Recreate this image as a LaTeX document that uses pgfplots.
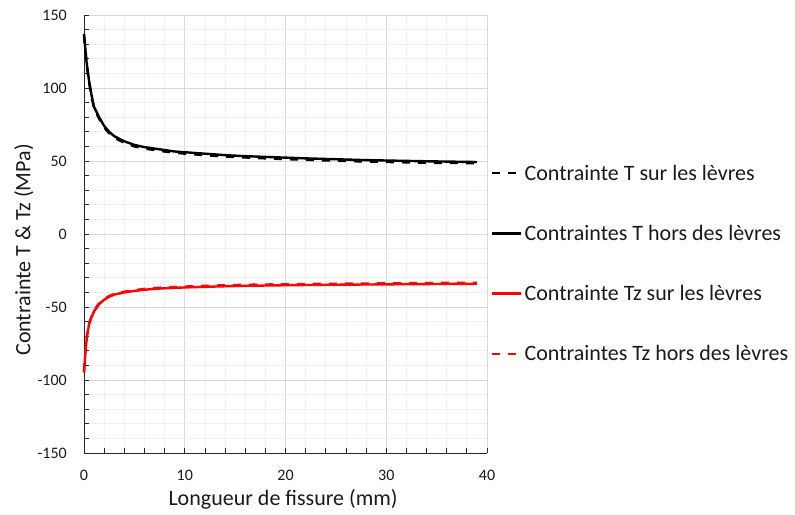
\documentclass[border=0pt]{standalone}
\usepackage{pgfplots}
\pgfplotsset{compat=1.18}
\usepackage{fontspec}
\setmainfont{Carlito}
\definecolor{majgrid}{HTML}{D9D9D9}
\definecolor{mingrid}{HTML}{F0F0F0}
\definecolor{txt}{HTML}{1A1A1A}
\begin{document}
\begin{tikzpicture}[x=1bp,y=1bp]
\useasboundingbox (-84,-62) rectangle (711,453);
\begin{axis}[
  at={(0,0)}, anchor=south west,
  scale only axis, width=403bp, height=438bp,
  xmin=0, xmax=40, ymin=-150, ymax=150,
  xtick={0,10,20,30,40}, ytick={-150,-100,-50,0,50,100,150},
  minor x tick num=4, minor y tick num=4,
  grid=both,
  major grid style={majgrid, line width=0.8pt},
  minor grid style={mingrid, line width=0.8pt},
  axis lines=left, axis line style={-, black!85, line width=0.8pt},
  tick style={black!85, line width=0.8pt},
  tick align=inside, major tick length=5bp, minor tick length=5bp,
  /pgf/number format/assume math mode=true,
  ticklabel style={font=\fontsize{16bp}{19bp}\selectfont, text=txt, inner sep=0pt},
  xticklabel style={anchor=base, yshift=-28bp},
  yticklabel style={anchor=east, xshift=-17bp},
  xlabel={Longueur de fissure (mm)},
  ylabel={Contrainte T \& Tz (MPa)},
  label style={font=\fontsize{22bp}{26bp}\selectfont, text=txt},
  xlabel style={at={(axis description cs:0.494,-0.105)}, anchor=center},
  ylabel style={at={(axis description cs:-0.149,0.4635)}, anchor=center},
  legend cell align=left,
  legend style={at={(1.01,0.663)}, anchor=north west, draw=none, fill=none,
    font=\fontsize{22bp}{26bp}\selectfont, text=txt, row sep=39.5bp, inner sep=0pt},
  legend image code/.code={\draw[#1] (0bp,0bp) -- (24bp,0bp); \path (0bp,0bp) -- (29bp,0bp);},
  clip=false,
]
\addplot[black, line width=2.4bp, dash pattern=on 8bp off 8bp] coordinates {
(0,136) (0.25,117) (0.5,104) (0.75,94) (1,86) (1.5,79) (2,73) (2.5,69) (3,66) (4,62.5) (5,60) (6,58.5) (7,57.5) (8,56.5) (9,55.7) (10,55) (12,54) (14,53) (16,52.4) (18,51.8) (20,51.3) (22,50.8) (25,50.2) (28,49.6) (31,49.2) (34,48.8) (37,48.6) (39,48.5)};
\addlegendentry{Contrainte T sur les lèvres}
\addplot[black, line width=2.4bp] coordinates {
(0,137) (0.25,118) (0.5,105) (0.75,95) (1,87) (1.5,80) (2,74) (2.5,70) (3,67) (4,63.5) (5,61) (6,59.5) (7,58.5) (8,57.5) (9,56.5) (10,56) (12,55) (14,54) (16,53.3) (18,52.8) (20,52.3) (22,51.8) (25,51.2) (28,50.6) (31,50.2) (34,49.8) (37,49.5) (39,49.3)};
\addlegendentry{Contraintes T hors des lèvres}
\addplot[red, line width=2.4bp] coordinates {
(0,-95) (0.15,-80) (0.3,-70) (0.5,-62) (0.75,-57) (1,-53) (1.5,-48) (2,-45) (2.5,-43) (3,-41.5) (4,-40) (5,-39) (6,-38.2) (7,-37.6) (8,-37.2) (10,-36.6) (12,-36.2) (14,-35.8) (16,-35.5) (20,-35.1) (24,-34.8) (28,-34.6) (32,-34.4) (36,-34.2) (39,-34.1)};
\addlegendentry{Contrainte Tz sur les lèvres}
\addplot[red, line width=2.4bp, dash pattern=on 8bp off 8bp] coordinates {
(0,-94) (0.15,-79.5) (0.3,-69.5) (0.5,-61.5) (0.75,-56.5) (1,-52.5) (1.5,-47.5) (2,-44.5) (2.5,-42.5) (3,-41) (4,-39.5) (5,-38.5) (6,-37.6) (7,-37) (8,-36.6) (10,-36) (12,-35.5) (14,-35.1) (16,-34.8) (20,-34.4) (24,-34.1) (28,-33.9) (32,-33.7) (36,-33.5) (39,-33.4)};
\addlegendentry{Contraintes Tz hors des lèvres}
\end{axis}
\end{tikzpicture}
\end{document}
